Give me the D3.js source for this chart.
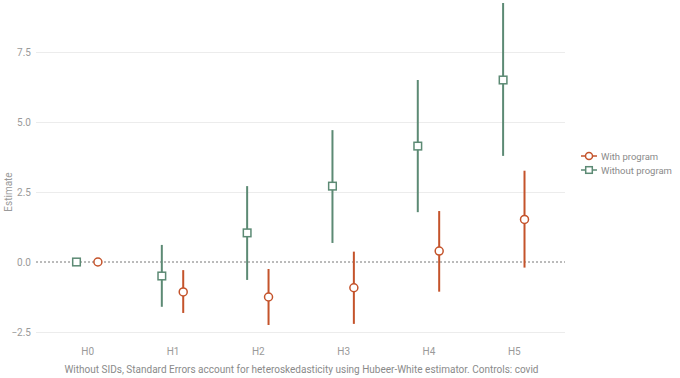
<!DOCTYPE html>
<html><head><meta charset="utf-8">
<script src="https://cdn.jsdelivr.net/npm/d3@7"></script>
<style>body{margin:0;background:#fff}svg{display:block}text{font-family:Roboto,"DejaVu Sans",sans-serif}</style>
</head><body><svg id="c" width="680" height="378"></svg>
<script>
const categories = ["H0","H1","H2","H3","H4","H5"];
const seriesNames = ["With program","Without program"];
const withEst  = [0, -1.07, -1.25, -0.92, 0.39, 1.52];
const withLo   = [0, -1.82, -2.25, -2.21, -1.06, -0.20];
const withHi   = [0, -0.29, -0.25, 0.37, 1.82, 3.26];
const woEst    = [0, -0.50, 1.04, 2.71, 4.14, 6.50];
const woLo     = [0, -1.60, -0.64, 0.68, 1.78, 3.79];
const woHi     = [0, 0.61, 2.71, 4.71, 6.50, 9.25];
const yTicks   = [-2.5, 0, 2.5, 5, 7.5];
const caption  = "Without SIDs, Standard Errors account for heteroskedasticity using Hubeer-White estimator. Controls: covid";

const orange = "#c4532b", green = "#5c8a74", txt = "#9a9a9a";
const svg = d3.select("#c");
const x0 = 36, x1 = 565;
const x = d3.scalePoint().domain(categories).range([x0, x1]).padding(0.6);
const y = d3.scaleLinear().domain([-2.5, 7.5]).range([332, 52]);
const off = 10.7;

// grid
const yAxis = d3.axisLeft(y).tickValues(yTicks).tickFormat(d3.format(".1f")).tickSize(-(x1 - x0)).tickPadding(5);
const ga = svg.append("g").attr("transform", `translate(${x0},0)`).call(yAxis);
ga.select(".domain").remove();
ga.selectAll(".tick line").attr("stroke", "#ececec").attr("stroke-width", 1)
  .attr("display", d => d === 0 ? "none" : null);
ga.selectAll(".tick text").attr("fill", txt).attr("font-size", 10);

// zero line
svg.append("line").attr("x1", x0).attr("x2", x1).attr("y1", y(0)).attr("y2", y(0))
  .attr("stroke", "#777").attr("stroke-width", 1).attr("stroke-dasharray", "2,2");

// x axis labels
const xAxis = d3.axisBottom(x).tickSize(0).tickPadding(8);
const gx = svg.append("g").attr("transform", `translate(0,340)`).call(xAxis);
gx.select(".domain").remove();
gx.selectAll(".tick text").attr("fill", txt).attr("font-size", 10);

// y title
svg.append("text").attr("transform", `translate(12,${y(2.5)}) rotate(-90)`).attr("text-anchor", "middle")
  .attr("fill", txt).attr("font-size", 10).text("Estimate");

// caption
svg.append("text").attr("x", (x0 + x1) / 2 + 1).attr("y", 373).attr("text-anchor", "middle")
  .attr("fill", "#8a8a8a").attr("font-size", 10).text(caption);

function series(est, lo, hi, dx, color, shape) {
  const g = svg.append("g");
  categories.forEach((c, i) => {
    const cx = x(c) + dx;
    if (hi[i] !== lo[i]) g.append("line").attr("x1", cx).attr("x2", cx).attr("y1", y(lo[i])).attr("y2", y(hi[i]))
      .attr("stroke", color).attr("stroke-width", 2);
    if (shape === "circle") g.append("circle").attr("cx", cx).attr("cy", y(est[i])).attr("r", 4)
      .attr("fill", "#fff").attr("stroke", color).attr("stroke-width", 1.5);
    else g.append("rect").attr("x", cx - 3.8).attr("y", y(est[i]) - 3.8).attr("width", 7.6).attr("height", 7.6)
      .attr("fill", "#fff").attr("stroke", color).attr("stroke-width", 1.5);
  });
}
series(woEst, woLo, woHi, -off, green, "square");
series(withEst, withLo, withHi, off, orange, "circle");

// legend
const leg = [[seriesNames[0], orange, "circle"], [seriesNames[1], green, "square"]];
leg.forEach((d, i) => {
  const ly = 156 + i * 14, lx = 589;
  svg.append("line").attr("x1", lx - 8).attr("x2", lx + 8).attr("y1", ly).attr("y2", ly).attr("stroke", d[1]).attr("stroke-width", 1.5);
  if (d[2] === "circle") svg.append("circle").attr("cx", lx).attr("cy", ly).attr("r", 3.5).attr("fill", "#fff").attr("stroke", d[1]).attr("stroke-width", 1.5);
  else svg.append("rect").attr("x", lx - 3.3).attr("y", ly - 3.3).attr("width", 6.6).attr("height", 6.6).attr("fill", "#fff").attr("stroke", d[1]).attr("stroke-width", 1.5);
  svg.append("text").attr("x", lx + 12).attr("y", ly + 3.5).attr("fill", "#8a8a8a").attr("font-size", 9.5).text(d[0]);
});
</script></body></html>
